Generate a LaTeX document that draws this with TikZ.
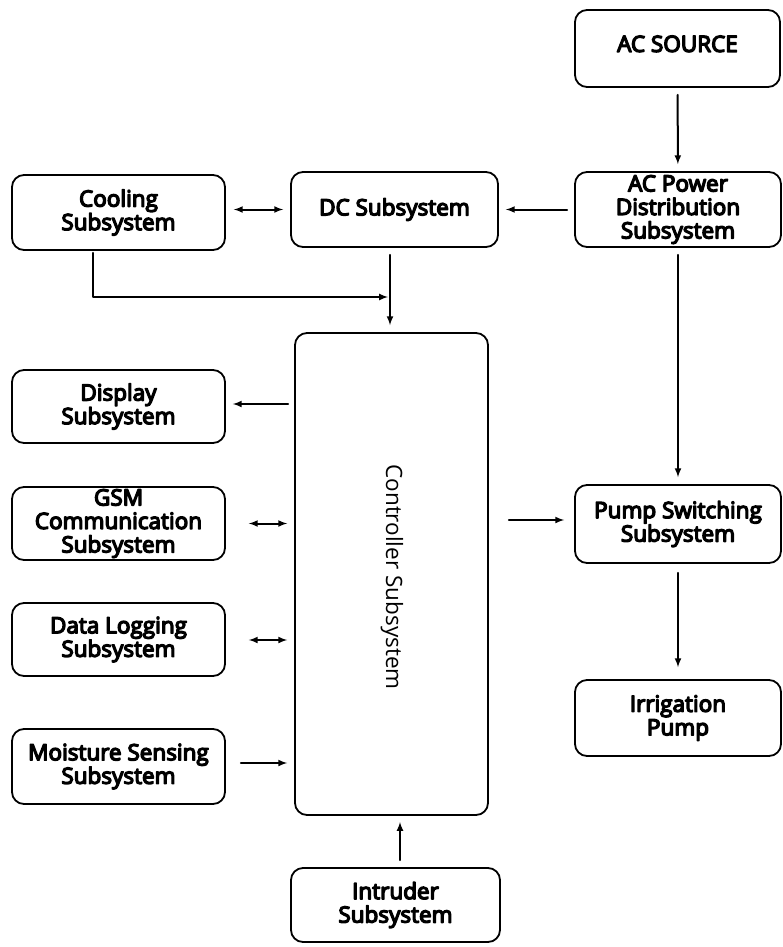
\documentclass[tikz,border=0pt]{standalone}
\usepackage{fontspec}
\setmainfont{Open Sans}
\newfontfamily\blkfont[FakeBold=6]{Open Sans}
\usepackage{tikz}
\usetikzlibrary{arrows}

\begin{document}
\begin{tikzpicture}[x=1pt,y=-1pt,line cap=round,line join=round,>=latex,
        blk/.style={draw,rounded corners=12pt,line width=1.8pt,align=center,
            inner sep=0pt,font=\blkfont\fontsize{22.5}{23.5}\selectfont},
        conn/.style={line width=2pt,shorten >=7pt,shorten <=7pt}]
        \useasboundingbox (0,0) rectangle (783,947);

        \node[blk,minimum width=205,minimum height=77] (acsrc) at (677.5,48.5) {AC SOURCE\\[-14pt]};
        \node[blk,minimum width=206,minimum height=75] (acdist) at (678,209.5) {AC Power\\Distribution\\Subsystem};
        \node[blk,minimum width=207,minimum height=75] (dc) at (394.5,209.5) {DC Subsystem};
        \node[blk,minimum width=213,minimum height=75] (cool) at (118.5,212.5) {Cooling\\Subsystem};
        \node[blk,minimum width=193,minimum height=482] (ctrl) at (391.5,574) {};
        \node[rotate=-90,font=\fontsize{22.5}{24}\selectfont] (ctrltxt) at (392,577) {Controller Subsystem};
        \node[blk,minimum width=213,minimum height=73] (disp) at (118.5,406.5) {Display\\Subsystem};
        \node[blk,minimum width=213,minimum height=73] (gsm) at (118.5,523.5) {GSM\\Communication\\Subsystem};
        \node[blk,minimum width=213,minimum height=73] (dlog) at (118.5,639.5) {Data Logging\\Subsystem};
        \node[blk,minimum width=213,minimum height=75] (moist) at (118.5,766.5) {Moisture Sensing\\Subsystem};
        \node[blk,minimum width=209,minimum height=74] (intr) at (395.5,905) {Intruder\\Subsystem};
        \node[blk,minimum width=206,minimum height=78] (pump) at (678,524) {Pump Switching\\Subsystem};
        \node[blk,minimum width=206,minimum height=76] (irr) at (678,718) {Irrigation\\Pump};

        \coordinate (jn) at (390,297);

        \draw[conn,->] (acsrc) -- (acdist);
        \draw[conn,->] (acdist) -- (dc);
        \draw[conn,<->,shorten <=8pt] (cool.east |- dc) -- (dc);
        \draw[conn,->] (jn |- dc.south) -- (jn |- ctrl.north);
        \draw[conn,->,shorten <=2pt,shorten >=2pt] ([xshift=-26pt]cool.south) |- (jn);
        \draw[conn,->] (acdist) -- (pump);
        \draw[conn,->,shorten <=6pt] (ctrl.west |- 0,404) -- (disp.east |- 0,404);
        \draw[conn,<->,shorten <=23pt] (gsm) -- (ctrl.west |- gsm);
        \draw[conn,<->,shorten <=23pt] (dlog.east |- 0,640) -- (ctrl.west |- 0,640);
        \draw[conn,->,shorten <=15pt] (moist.east |- 0,763) -- (ctrl.west |- 0,763);
        \draw[conn,->,shorten <=20pt,shorten >=10pt] (ctrl.east |- 0,520) -- (pump.west |- 0,520);
        \draw[conn,->,shorten <=9pt,shorten >=12pt] (pump) -- (irr);
        \draw[conn,->] (intr.north -| 0,400) ++(400,0) -- (400,815);
\end{tikzpicture}
\end{document}
